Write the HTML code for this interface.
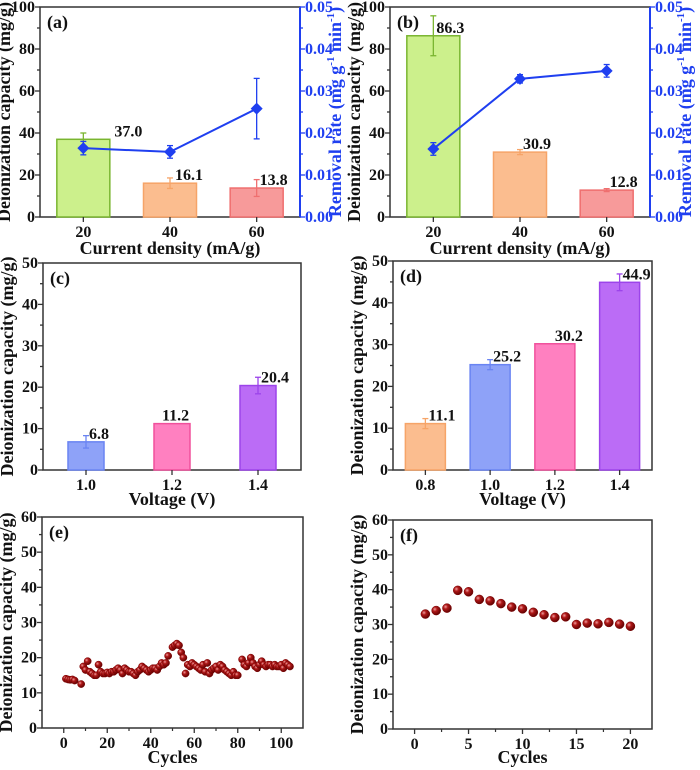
<!DOCTYPE html>
<html><head><meta charset="utf-8"><style>
html,body{margin:0;padding:0;background:#fff;}
svg{display:block;font-family:"Liberation Serif",serif;font-weight:bold;}
</style></head><body>
<svg id="fig" width="700" height="770" viewBox="0 0 700 770" xmlns="http://www.w3.org/2000/svg"></svg>
<script>
// ---- data ----
const catsAB = [20, 40, 60];
const capA = [37.0, 16.1, 13.8];
const capAErr = [3, 2.5, 4];
const rateA = [0.0164, 0.0155, 0.0258];
const rateAErr = [0.0016, 0.0015, 0.0072];
const capB = [86.3, 30.9, 12.8];
const capBErr = [9.5, 1.2, 0.7];
const rateB = [0.0162, 0.0329, 0.0348];
const rateBErr = [0.0015, 0.001, 0.0015];
const catsC = [1.0, 1.2, 1.4];
const capC = [6.8, 11.2, 20.4];
const capCErr = [1.5, 0, 2];
const catsD = [0.8, 1.0, 1.2, 1.4];
const capD = [11.1, 25.2, 30.2, 44.9];
const capDErr = [1.2, 1.2, 0, 2];
const cycE = [1,2,3,4,5,8,9,10,11,12,13,14,15,16,17,18,19,20,21,22,23,24,25,26,27,28,29,30,31,32,33,34,35,36,37,38,39,40,41,42,43,44,45,46,47,48,50,51,52,53,54,55,56,57,58,59,60,61,62,63,64,65,66,67,68,69,70,71,72,73,74,75,76,77,78,79,80,82,83,84,85,86,87,88,89,90,91,92,93,94,95,96,97,98,99,100,101,102,103,104];
const capE = [14,13.8,13.7,13.8,13.5,12.5,17.5,16.5,19,16,15.5,15,15,18,16,15.5,15.5,15.8,15.5,16,16,16.5,17,16.5,15.5,17,16.5,16,16,15.5,15,16,16.5,17.5,17,16.5,16,16.5,17,17,16.5,17.5,18.5,18,18.5,20.5,23,23.5,24,23.5,21.5,20,15.5,18,17.5,18.5,18,17.5,17,16.5,18,16,18.5,15.5,16.5,17,17.5,16.5,18,17.5,16.5,16,15.5,15,16,15,15,19.5,18,17.5,18.5,20,18.5,17.5,17,18,19,18,17.5,18,18,17.5,18,17.5,17.5,18,17,18.5,18,17.5];
const cycF = [1,2,3,4,5,6,7,8,9,10,11,12,13,14,15,16,17,18,19,20];
const capF = [33,34,34.7,39.8,39.4,37.2,36.8,36,35,34.5,33.5,32.8,32,32.2,30,30.4,30.2,30.6,30.1,29.5];

const NS = "http://www.w3.org/2000/svg";
const svg = document.getElementById('fig');
function el(tag, attrs, parent) {
  const e = document.createElementNS(NS, tag);
  for (const k in attrs) e.setAttribute(k, attrs[k]);
  (parent || svg).appendChild(e);
  return e;
}
function lin(d0, d1, r0, r1) { return v => r0 + (v - d0) / (d1 - d0) * (r1 - r0); }

const defs = el('defs', {});
const rg = el('radialGradient', {id: 'ball', cx: '0.35', cy: '0.35', r: '0.7'}, defs);
el('stop', {offset: '0', 'stop-color': '#f0a0a0'}, rg);
el('stop', {offset: '0.35', 'stop-color': '#b01818'}, rg);
el('stop', {offset: '1', 'stop-color': '#5a0000'}, rg);

function frame(name, L, R, T, B, ymax, ystep, yminor, label) {
  const g = el('g', {});
  
  
  const ys = lin(0, ymax, B, T);
  const r = el('rect', {x: L, y: T, width: R - L, height: B - T, fill: 'none', stroke: '#333', 'stroke-width': 1.5}, g);
  
  
  for (let v = 0; v <= ymax + 1e-9; v += yminor) {
    const major = Math.abs(v / ystep - Math.round(v / ystep)) < 1e-6;
    el('line', {x1: L, x2: L - (major ? 5 : 3), y1: ys(v), y2: ys(v), stroke: '#333', 'stroke-width': 1.3}, g);
    if (major) {
      const t = el('text', {x: L - 5, y: ys(v) + 5, 'text-anchor': 'end', 'font-size': 16, fill: '#111'}, g);
      t.textContent = String(Math.round(v));
      
      
    }
  }
  const lt = el('text', {x: L + 7, y: T + 21, 'font-size': 18, fill: '#111'}, g);
  lt.textContent = label;
  
  
  const yt = el('text', {x: 0, y: 0, 'text-anchor': 'middle', 'font-size': 18, fill: '#111', transform: `translate(${L - 30},${(T + B) / 2}) rotate(-90)`}, g);
  yt.textContent = 'Deionization capacity (mg/g)';
  
  
  return {g, ys};
}
function xticks(g, xs, vals, labels, B, minorVals) {
  (minorVals || []).forEach(v => el('line', {x1: xs(v), x2: xs(v), y1: B, y2: B + 3, stroke: '#333', 'stroke-width': 1.2}, g));
  vals.forEach((v, i) => {
    el('line', {x1: xs(v), x2: xs(v), y1: B, y2: B + 5, stroke: '#333', 'stroke-width': 1.3}, g);
    const t = el('text', {x: xs(v), y: B + 20, 'text-anchor': 'middle', 'font-size': 16, fill: '#111'}, g);
    t.textContent = labels[i];
    
    
  });
}
function xtitle(g, x, y, s) {
  const t = el('text', {x, y, 'text-anchor': 'middle', 'font-size': 18, fill: '#111'}, g);
  t.textContent = s;
  
  
}
function errbar(g, x, y1, y2, color, cap) {
  el('line', {x1: x, x2: x, y1, y2, stroke: color, 'stroke-width': 1.3}, g);
  el('line', {x1: x - cap, x2: x + cap, y1, y2: y1, stroke: color, 'stroke-width': 1.3}, g);
  el('line', {x1: x - cap, x2: x + cap, y1: y2, y2: y2, stroke: color, 'stroke-width': 1.3}, g);
}
function bars(g, xs, ys, cats, vals, errs, bw, fills, edges, offs) {
  cats.forEach((c, i) => {
    const x = xs(c), y = ys(vals[i]);
    const b = el('rect', {x: x - bw / 2, y, width: bw, height: ys(0) - y, fill: fills[i], stroke: edges[i], 'stroke-width': 1.5}, g);
    
    
    if (errs[i] > 0) errbar(g, x, ys(vals[i] + errs[i]), ys(vals[i] - errs[i]), edges[i], 3);
    const t = el('text', {x: x + (offs ? offs[i] : 3), y: y - 3, 'font-size': 16, fill: '#111'}, g);
    t.textContent = vals[i].toFixed(1);
    
    
  });
}
function rightAxis(g, L, R, T, B, xs, rates, rerrs, titleX) {
  const rs = lin(0, 0.05, B, T);
  const blue = '#1f3ff0';
  el('line', {x1: R, x2: R, y1: T, y2: B, stroke: blue, 'stroke-width': 2}, g);
  for (let k = 0; k <= 10; k++) {
    const v = k * 0.005, major = k % 2 === 0;
    el('line', {x1: R, x2: R + (major ? 5 : 3), y1: rs(v), y2: rs(v), stroke: blue, 'stroke-width': 1.3}, g);
    if (major) {
      const t = el('text', {x: R + 5, y: rs(v) + 5, 'font-size': 16, fill: blue}, g);
      t.textContent = v.toFixed(2);
      
      
    }
  }
  const pts = catsAB.map((c, i) => xs(c) + ',' + rs(rates[i])).join(' ');
  const pl = el('polyline', {points: pts, fill: 'none', stroke: blue, 'stroke-width': 2}, g);
  
  
  catsAB.forEach((c, i) => {
    const x = xs(c), y = rs(rates[i]);
    errbar(g, x, rs(rates[i] + rerrs[i]), rs(rates[i] - rerrs[i]), blue, 3);
    const d = el('path', {d: `M${x},${y - 6}L${x + 6},${y}L${x},${y + 6}L${x - 6},${y}Z`, fill: blue}, g);
    
    
  });
  const t = el('text', {x: 0, y: 0, 'text-anchor': 'middle', 'font-size': 18, fill: blue, transform: `translate(${titleX},${(T + B) / 2}) rotate(-90)`}, g);
  
  
  t.innerHTML = 'Removal rate (mg g<tspan dy="-7" font-size="11">-1</tspan><tspan dy="7"> min</tspan><tspan dy="-7" font-size="11">-1</tspan><tspan dy="7">)</tspan>';
}

const fAB = ['#ccf08c', '#fbbd8f', '#f79a9a'];
const eAB = ['#7ab530', '#f6a468', '#ef6f6f'];

// panel a
{
  const L = 40, R = 300, T = 7, B = 217;
  const {g, ys} = frame('panel-a', L, R, T, B, 100, 20, 10, '(a)');
  const xs = lin(10, 70, L, R);
  bars(g, xs, ys, catsAB, capA, capAErr, 53, fAB, eAB, [31, 5, 3]);
  rightAxis(g, L, R, T, B, xs, rateA, rateAErr, 341);
  xticks(g, xs, catsAB, ['20', '40', '60'], B);
  xtitle(g, (L + R) / 2, 254, 'Current density (mA/g)');
}
// panel b
{
  const L = 390, R = 650, T = 7, B = 217;
  const {g, ys} = frame('panel-b', L, R, T, B, 100, 20, 10, '(b)');
  const xs = lin(10, 70, L, R);
  bars(g, xs, ys, catsAB, capB, capBErr, 53, fAB, eAB, [3, 3, 3]);
  rightAxis(g, L, R, T, B, xs, rateB, rateBErr, 691);
  xticks(g, xs, catsAB, ['20', '40', '60'], B);
  xtitle(g, (L + R) / 2, 254, 'Current density (mA/g)');
}
// panel c
{
  const L = 43, R = 301, T = 263, B = 470;
  const {g, ys} = frame('panel-c', L, R, T, B, 50, 10, 5, '(c)');
  const xs = lin(0.9, 1.5, L, R);
  bars(g, xs, ys, catsC, capC, capCErr, 36, ['#8ea2f8', '#ff80c0', '#bb6cf6'], ['#6a84f2', '#f0509c', '#9c44ea'], [3, -10, 3]);
  xticks(g, xs, catsC, ['1.0', '1.2', '1.4'], B);
  xtitle(g, (L + R) / 2, 505, 'Voltage (V)');
}
// panel d
{
  const L = 393, R = 652, T = 261, B = 470;
  const {g, ys} = frame('panel-d', L, R, T, B, 50, 10, 5, '(d)');
  const xs = lin(0.7, 1.5, L, R);
  bars(g, xs, ys, catsD, capD, capDErr, 40, ['#fbbd8f', '#8ea2f8', '#ff80c0', '#bb6cf6'], ['#f6a468', '#6a84f2', '#f0509c', '#9c44ea'], [3, 3, 0, 3]);
  xticks(g, xs, catsD, ['0.8', '1.0', '1.2', '1.4'], B);
  xtitle(g, (L + R) / 2, 505, 'Voltage (V)');
}
function scatter(g, xs, ys, xv, yv, r) {
  xv.forEach((c, i) => {
    const p = el('circle', {cx: xs(c), cy: ys(yv[i]), r, fill: 'url(#ball)', stroke: '#7a0000', 'stroke-width': 0.5}, g);
    
    
  });
}
// panel e
{
  const L = 42, R = 303, T = 517, B = 728;
  const {g, ys} = frame('panel-e', L, R, T, B, 60, 10, 5, '(e)');
  const xs = lin(-10, 110, L, R);
  scatter(g, xs, ys, cycE, capE, 3.6);
  xticks(g, xs, [0, 20, 40, 60, 80, 100], ['0', '20', '40', '60', '80', '100'], B, [10, 30, 50, 70, 90]);
  xtitle(g, (L + R) / 2, 763, 'Cycles');
}
// panel f
{
  const L = 393, R = 652, T = 520, B = 729;
  const {g, ys} = frame('panel-f', L, R, T, B, 60, 10, 5, '(f)');
  const xs = lin(-2, 22, L, R);
  scatter(g, xs, ys, cycF, capF, 4.5);
  xticks(g, xs, [0, 5, 10, 15, 20], ['0', '5', '10', '15', '20'], B, [2.5, 7.5, 12.5, 17.5]);
  xtitle(g, (L + R) / 2, 763, 'Cycles');
}
</script>
</body></html>
